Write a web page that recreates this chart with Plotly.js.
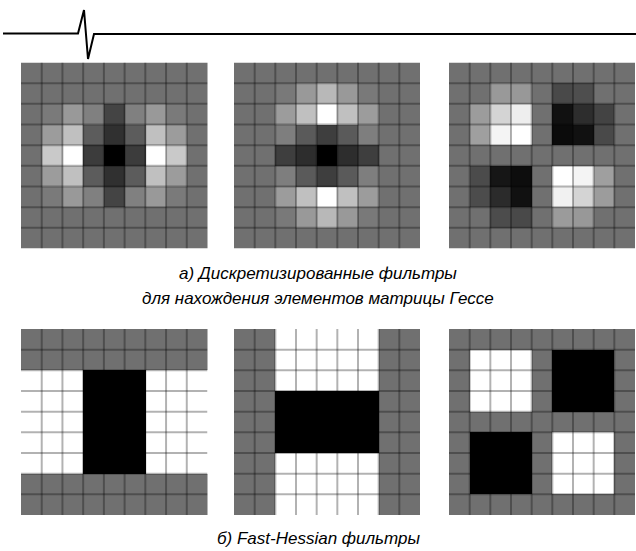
<!DOCTYPE html>
<html>
<head>
<meta charset="utf-8">
<script src="https://cdn.plot.ly/plotly-3.0.1.min.js"></script>
<style>html,body{margin:0;padding:0;background:#fff;}#chart{width:636px;height:551px;}</style>
</head>
<body>
<div id="chart"></div>
<script>
// 9x9 filter values (rows top to bottom), -1 = black, 0 = neutral gray, 1 = white
const filterDxx = [
  [0, 0, 0, 0, 0, 0, 0, 0, 0],
  [0, 0, 0, 0, 0, 0, 0, 0, 0],
  [0, 0.07, 0.29, 0.11, -0.39, 0.11, 0.29, 0.07, 0],
  [0, 0.31, 0.56, -0.18, -0.57, -0.18, 0.56, 0.31, 0],
  [0, 0.62, 1, -0.46, -1, -0.46, 1, 0.62, 0],
  [0, 0.31, 0.56, -0.18, -0.57, -0.18, 0.56, 0.31, 0],
  [0, 0.07, 0.29, 0.11, -0.39, 0.11, 0.29, 0.07, 0],
  [0, 0, 0, 0, 0, 0, 0, 0, 0],
  [0, 0, 0, 0, 0, 0, 0, 0, 0]
];
const filterDyy = [
  [0, 0, 0, 0, 0, 0, 0, 0, 0],
  [0, 0, 0.06, 0.29, 0.5, 0.29, 0.06, 0, 0],
  [0, 0, 0.31, 0.56, 1, 0.56, 0.31, 0, 0],
  [0, 0, 0.1, -0.2, -0.45, -0.2, 0.1, 0, 0],
  [0, 0, -0.45, -0.6, -1, -0.6, -0.45, 0, 0],
  [0, 0, 0.1, -0.2, -0.45, -0.2, 0.1, 0, 0],
  [0, 0, 0.31, 0.56, 1, 0.56, 0.31, 0, 0],
  [0, 0, 0.06, 0.29, 0.5, 0.29, 0.06, 0, 0],
  [0, 0, 0, 0, 0, 0, 0, 0, 0]
];
const filterDxy = [
  [0, 0, 0, 0, 0, 0, 0, 0, 0],
  [0, 0, 0.29, 0.28, 0, -0.35, -0.3, 0, 0],
  [0, 0.31, 0.7, 0.88, 0, -0.85, -0.6, -0.4, 0],
  [0, 0.33, 0.92, 1, 0, -0.9, -0.85, -0.35, 0],
  [0, 0, 0, 0, 0, 0, 0, 0, 0],
  [0, -0.33, -0.8, -0.88, 0, 1, 0.92, 0.33, 0],
  [0, -0.32, -0.62, -0.85, 0, 0.9, 0.7, 0.31, 0],
  [0, 0, -0.32, -0.35, 0, 0.3, 0.28, 0, 0],
  [0, 0, 0, 0, 0, 0, 0, 0, 0]
];
const boxDxx = [
  [0, 0, 0, 0, 0, 0, 0, 0, 0],
  [0, 0, 0, 0, 0, 0, 0, 0, 0],
  [1, 1, 1, -1, -1, -1, 1, 1, 1],
  [1, 1, 1, -1, -1, -1, 1, 1, 1],
  [1, 1, 1, -1, -1, -1, 1, 1, 1],
  [1, 1, 1, -1, -1, -1, 1, 1, 1],
  [1, 1, 1, -1, -1, -1, 1, 1, 1],
  [0, 0, 0, 0, 0, 0, 0, 0, 0],
  [0, 0, 0, 0, 0, 0, 0, 0, 0]
];
const boxDyy = [
  [0, 0, 1, 1, 1, 1, 1, 0, 0],
  [0, 0, 1, 1, 1, 1, 1, 0, 0],
  [0, 0, 1, 1, 1, 1, 1, 0, 0],
  [0, 0, -1, -1, -1, -1, -1, 0, 0],
  [0, 0, -1, -1, -1, -1, -1, 0, 0],
  [0, 0, -1, -1, -1, -1, -1, 0, 0],
  [0, 0, 1, 1, 1, 1, 1, 0, 0],
  [0, 0, 1, 1, 1, 1, 1, 0, 0],
  [0, 0, 1, 1, 1, 1, 1, 0, 0]
];
const boxDxy = [
  [0, 0, 0, 0, 0, 0, 0, 0, 0],
  [0, 1, 1, 1, 0, -1, -1, -1, 0],
  [0, 1, 1, 1, 0, -1, -1, -1, 0],
  [0, 1, 1, 1, 0, -1, -1, -1, 0],
  [0, 0, 0, 0, 0, 0, 0, 0, 0],
  [0, -1, -1, -1, 0, 1, 1, 1, 0],
  [0, -1, -1, -1, 0, 1, 1, 1, 0],
  [0, -1, -1, -1, 0, 1, 1, 1, 0],
  [0, 0, 0, 0, 0, 0, 0, 0, 0]
];
const captionTop1 = "а) Дискретизированные фильтры";
const captionTop2 = "для нахождения элементов матрицы Гессе";
const captionBottom = "б) Fast-Hessian фильтры";

const panels = [filterDxx, filterDyy, filterDxy, boxDxx, boxDyy, boxDxy];

// layout geometry (pixels -> paper, with zero margins)
const W = 636, H = 551;
const colPx = [[21, 207.5], [234, 420], [449, 635]];
const rowPx = [[62.5, 248.5], [329, 515]];

const data = [];
const layout = {
  width: W, height: H,
  margin: {l: 0, r: 0, t: 0, b: 0, pad: 0},
  paper_bgcolor: '#ffffff', plot_bgcolor: '#ffffff',
  showlegend: false,
  shapes: [], annotations: []
};

panels.forEach((z, i) => {
  const n = i + 1;
  const xs = n === 1 ? 'x' : 'x' + n;
  const ys = n === 1 ? 'y' : 'y' + n;
  const c = colPx[i % 3], r = rowPx[Math.floor(i / 3)];
  const size = z.length;
  const idx = Array.from({length: size}, (_, k) => k);
  data.push({
    type: 'heatmap', z: z, x: idx, y: idx,
    xaxis: xs, yaxis: ys,
    zmin: -1, zmax: 1,
    colorscale: [[0, '#000000'], [0.5, '#707070'], [1, '#ffffff']],
    showscale: false, hoverinfo: 'skip', zsmooth: false
  });
  layout['xaxis' + (n === 1 ? '' : n)] = {
    domain: [c[0] / W, c[1] / W], range: [-0.5, size - 0.5],
    visible: false, fixedrange: true, anchor: ys
  };
  layout['yaxis' + (n === 1 ? '' : n)] = {
    domain: [1 - r[1] / H, 1 - r[0] / H], range: [size - 0.5, -0.5],
    visible: false, fixedrange: true, anchor: xs
  };
  for (let k = 1; k < size; k++) {
    layout.shapes.push({type: 'line', xref: xs, yref: ys, x0: k - 0.5, x1: k - 0.5, y0: -0.5, y1: size - 0.5,
      line: {color: 'rgba(0,0,0,0.3)', width: 2}});
    layout.shapes.push({type: 'line', xref: xs, yref: ys, y0: k - 0.5, y1: k - 0.5, x0: -0.5, x1: size - 0.5,
      line: {color: 'rgba(0,0,0,0.3)', width: 2}});
  }
});

// decorative pulse line at the top
const px = v => v / W, py = v => 1 - v / H;
layout.shapes.push({
  type: 'path', xref: 'paper', yref: 'paper',
  path: `M ${px(3)} ${py(33.5)} L ${px(78)} ${py(33.5)} L ${px(84)} ${py(10)} L ${px(88)} ${py(59)} L ${px(94)} ${py(34)} L ${px(636)} ${py(34)}`,
  line: {color: '#000000', width: 2}
});

const capFont = {family: 'Liberation Sans, Arial, sans-serif', size: 17, color: '#000000', style: 'italic'};
[[captionTop1, 273], [captionTop2, 299], [captionBottom, 538]].forEach(([t, y]) => {
  layout.annotations.push({text: '<i>' + t + '</i>', xref: 'paper', yref: 'paper', x: 0.5, y: py(y),
    xanchor: 'center', yanchor: 'middle', showarrow: false, font: capFont});
});

Plotly.newPlot('chart', data, layout, {staticPlot: true, displayModeBar: false});
</script>
</body>
</html>
